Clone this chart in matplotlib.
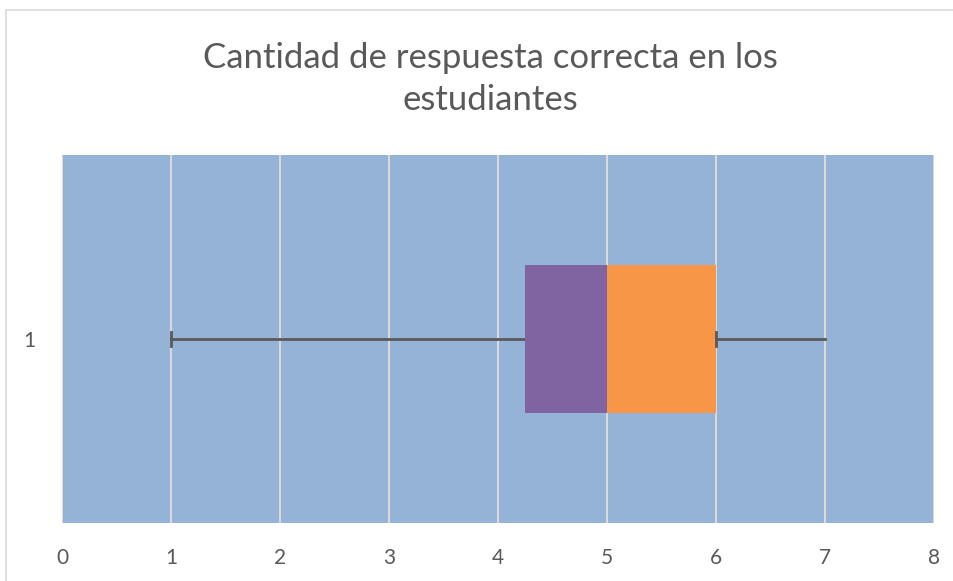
import matplotlib.pyplot as plt
from matplotlib.patches import Rectangle

# Box plot summary (Excel-style stacked bar box plot)
categories = ['1']
minimo = [1]
q1 = [4.25]
mediana = [5]
q3 = [6]
maximo = [7]

title = 'Cantidad de respuesta correcta en los\nestudiantes'
xticks = [0, 1, 2, 3, 4, 5, 6, 7, 8]

plt.rcParams['font.family'] = ['Lato', 'DejaVu Sans']

fig = plt.figure(figsize=(9.54, 5.81), dpi=100)
ax = fig.add_axes([62/954, 58/581, 872/954, 368/581])

# chart border (left and top visible)
fig.patches.append(Rectangle((6/954, -0.1), 1.2, (581-10)/581 + 0.1, transform=fig.transFigure,
                             fill=False, edgecolor='#d9d9d9', linewidth=1.2))

ax.set_facecolor('#95b3d7')
ax.set_xlim(0, 8)
ax.set_ylim(0.5, 1.5)

ys = [1]
lower = [m - q for m, q in zip(mediana, q1)]
upper = [q - m for q, m in zip(q3, mediana)]
ax.barh(ys, lower, left=q1, height=0.4, color='#8064a2', zorder=3)
ax.barh(ys, upper, left=mediana, height=0.4, color='#f79646', zorder=3)

# whiskers
for y, lo, a, b, hi in zip(ys, minimo, q1, q3, maximo):
    ax.plot([lo, a], [y, y], color='#595959', lw=2, zorder=2)
    ax.plot([b, hi], [y, y], color='#595959', lw=2, zorder=2)
    ax.plot([lo, lo], [y - 0.02, y + 0.02], color='#595959', lw=2, zorder=4)
    ax.plot([b, b], [y - 0.02, y + 0.02], color='#595959', lw=2, zorder=4)

ax.set_xticks(xticks)
ax.set_yticks(ys)
ax.set_yticklabels(categories)
ax.grid(axis='x', color='#d9d9d9', linewidth=1.5, zorder=1)
ax.set_axisbelow(True)
for s in ax.spines.values():
    s.set_visible(False)
ax.tick_params(length=0, labelsize=15, labelcolor='#595959')
ax.tick_params(axis='x', pad=18)
ax.tick_params(axis='y', pad=19)

fig.text(490/954, 1 - 79/581, title, ha='center', va='center', fontsize=25,
         color='#595959', linespacing=1.42)

plt.savefig('out.png', dpi=100)
